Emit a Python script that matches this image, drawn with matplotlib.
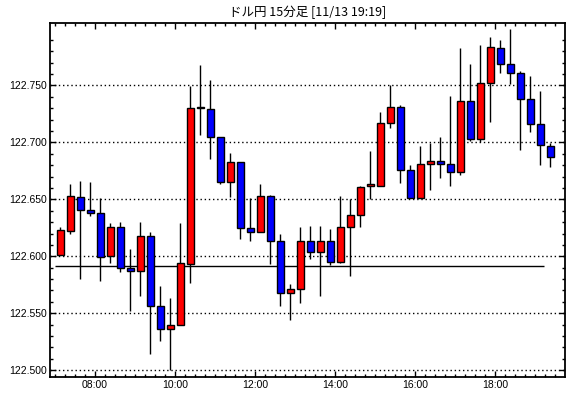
import numpy as np
import matplotlib
matplotlib.use("Agg")
import matplotlib.pyplot as plt
from matplotlib.ticker import FixedLocator

plt.rcParams['font.family'] = ['Liberation Sans', 'Noto Sans CJK JP', 'DejaVu Sans']

# 15-minute candles, 07:00 .. 19:15
times = ["07:00", "07:15", "07:30", "07:45", "08:00", "08:15", "08:30", "08:45",
         "09:00", "09:15", "09:30", "09:45", "10:00", "10:15", "10:30", "10:45",
         "11:00", "11:15", "11:30", "11:45", "12:00", "12:15", "12:30", "12:45",
         "13:00", "13:15", "13:30", "13:45", "14:00", "14:15", "14:30", "14:45",
         "15:00", "15:15", "15:30", "15:45", "16:00", "16:15", "16:30", "16:45",
         "17:00", "17:15", "17:30", "17:45", "18:00", "18:15", "18:30", "18:45",
         "19:00", "19:15"]
opens = [122.601, 122.622, 122.652, 122.641, 122.638, 122.600, 122.626, 122.590,
         122.587, 122.618, 122.556, 122.536, 122.540, 122.593, 122.730, 122.729,
         122.705, 122.665, 122.683, 122.625, 122.621, 122.653, 122.613, 122.568,
         122.571, 122.613, 122.604, 122.613, 122.595, 122.626, 122.636, 122.662,
         122.662, 122.717, 122.731, 122.676, 122.651, 122.681, 122.684, 122.681,
         122.674, 122.736, 122.703, 122.752, 122.783, 122.769, 122.761, 122.738,
         122.716, 122.697]
highs = [122.626, 122.663, 122.666, 122.665, 122.651, 122.629, 122.630, 122.606,
         122.630, 122.621, 122.574, 122.563, 122.629, 122.749, 122.768, 122.755,
         122.705, 122.691, 122.683, 122.651, 122.663, 122.654, 122.620, 122.576,
         122.626, 122.627, 122.627, 122.624, 122.653, 122.650, 122.662, 122.692,
         122.727, 122.750, 122.733, 122.680, 122.697, 122.699, 122.705, 122.741,
         122.783, 122.769, 122.785, 122.792, 122.790, 122.799, 122.763, 122.758,
         122.745, 122.699]
lows = [122.601, 122.620, 122.580, 122.635, 122.578, 122.594, 122.586, 122.552,
        122.565, 122.514, 122.526, 122.500, 122.540, 122.577, 122.706, 122.685,
        122.663, 122.652, 122.615, 122.613, 122.621, 122.593, 122.556, 122.544,
        122.559, 122.598, 122.565, 122.592, 122.594, 122.583, 122.626, 122.650,
        122.662, 122.713, 122.664, 122.651, 122.651, 122.658, 122.669, 122.662,
        122.671, 122.701, 122.700, 122.718, 122.761, 122.751, 122.693, 122.709,
        122.680, 122.678]
closes = [122.623, 122.653, 122.641, 122.638, 122.599, 122.626, 122.590, 122.587,
          122.618, 122.556, 122.536, 122.540, 122.594, 122.730, 122.730, 122.705,
          122.665, 122.683, 122.625, 122.621, 122.653, 122.613, 122.568, 122.571,
          122.613, 122.604, 122.613, 122.595, 122.626, 122.636, 122.661, 122.662,
          122.717, 122.731, 122.676, 122.651, 122.681, 122.684, 122.681, 122.674,
          122.736, 122.703, 122.752, 122.784, 122.769, 122.761, 122.738, 122.716,
          122.698, 122.687]

ref_level = 122.5915
x_labels = ["08:00", "10:00", "12:00", "14:00", "16:00", "18:00"]
y_ticks = [122.500, 122.550, 122.600, 122.650, 122.700, 122.750]

o = np.array(opens)
c = np.array(closes)
x = np.arange(len(times))

fig = plt.figure(figsize=(5.7, 3.98), dpi=100)
ax = fig.add_axes([50 / 570, 1 - 377 / 398, 515 / 570, 354 / 398])

# wicks
ax.vlines(x, lows, highs, color='black', lw=1, zorder=2)

# bodies: red = up, blue = down
body_col = np.where(c >= o, '#ff0000', '#0000ff')
bottom = np.minimum(o, c)
height = np.maximum(np.abs(c - o), 0.0012)
ax.bar(x, height, bottom=bottom, width=0.7, color=body_col,
       edgecolor='black', linewidth=1, zorder=3)

# horizontal reference line
ax.hlines(ref_level, -0.5, 48.4, color='black', lw=1, zorder=1)

ax.set_xlim(-1, 50.5)
ax.set_ylim(122.4941, 122.8047)

# ticks
hour_pos = [times.index(t) - 0.5 for t in x_labels]
ax.xaxis.set_major_locator(FixedLocator(hour_pos))
ax.set_xticklabels(x_labels)
ax.xaxis.set_minor_locator(FixedLocator(np.arange(-0.5, 50.5, 1)))
ax.yaxis.set_major_locator(FixedLocator(y_ticks))
ax.set_yticklabels(["%.3f" % v for v in y_ticks])
ax.yaxis.set_minor_locator(FixedLocator(np.arange(122.50, 122.80, 0.01)))

ax.tick_params(which='both', direction='in', top=True, right=True,
               labelsize=7.5, colors='black', pad=2)
ax.tick_params(which='major', length=4, width=1)
ax.tick_params(which='minor', length=2, width=1)

ax.grid(axis='y', which='major', color='black', linestyle=(0, (1, 2)), lw=1)
ax.set_axisbelow(True)
for sp in ax.spines.values():
    sp.set_linewidth(1.3)

fig.text(307.5 / 570, 1 - 12 / 398, "ドル円 15分足 [11/13 19:19]",
         ha='center', va='center', fontsize=9,
         family=['Noto Sans CJK JP', 'DejaVu Sans'])

fig.savefig("out.png", dpi=100)
